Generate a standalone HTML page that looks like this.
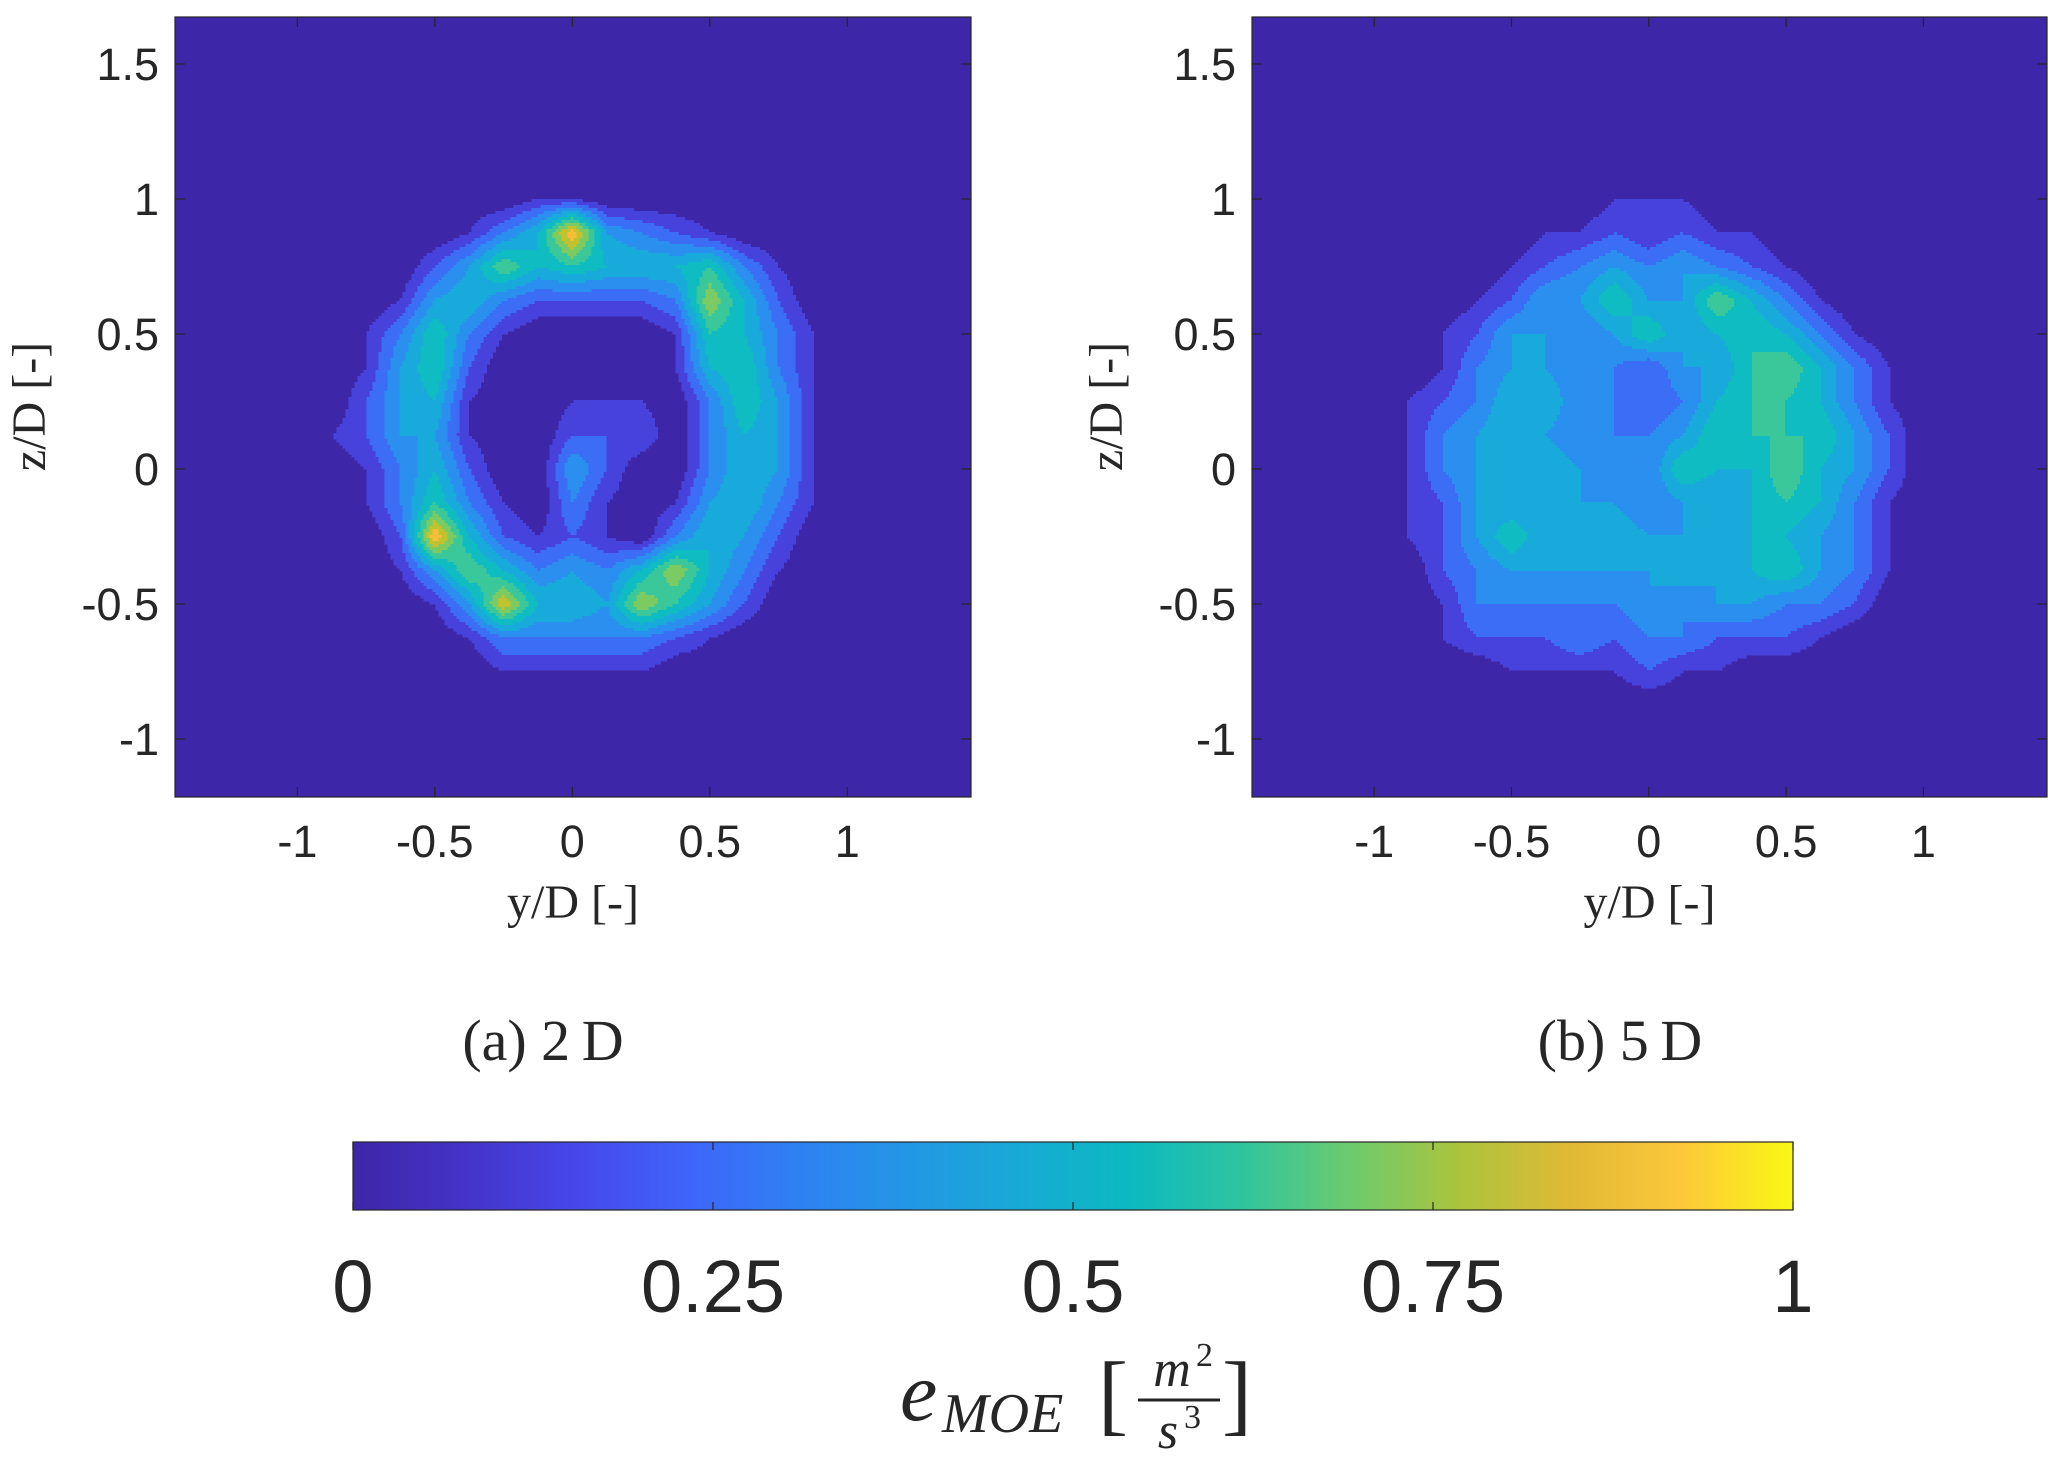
<!DOCTYPE html>
<html><head><meta charset="utf-8"><style>
html,body{margin:0;padding:0;background:#fff;}
body{width:2067px;height:1469px;position:relative;overflow:hidden;font-family:"Liberation Sans",sans-serif;}
svg{position:absolute;left:0;top:0;}
.t{font-family:"Liberation Sans",sans-serif;fill:#262626;}
.s{font-family:"Liberation Serif",serif;fill:#262626;}
</style></head><body>
<svg id="fig" width="2067" height="1469" viewBox="0 0 2067 1469"></svg>
<script>
// grid coordinates
const yCoords=[-1,-0.875,-0.75,-0.625,-0.5,-0.375,-0.25,-0.125,0,0.125,0.25,0.375,0.5,0.625,0.75,0.875,1];
const zCoords=[1,0.875,0.75,0.625,0.5,0.375,0.25,0.125,0,-0.125,-0.25,-0.375,-0.5,-0.625,-0.75,-0.875,-1];
// values in tenths, panel (a) 2D
const field2D=[
[0,0,0,0,0,0,0,1,1,0,0,0,0,0,0,0,0],
[0,0,0,0,0,1,3,5,10,4,3,2,1,0,0,0,0],
[0,0,0,0,2,4,7,5,6,5,5,5,6,3,1,0,0],
[0,0,0,1,4,5,3,2,2,2,2,3,8,5,2,0,0],
[0,0,1,3,6,3,1,0,0,0,0,1,6,5,3,1,0],
[0,0,1,4,6,2,0,0,0,0,0,1,5,6,3,1,0],
[0,0,2,4,5,1,0,0,1,1,1,0,3,6,4,1,0],
[0,1,2,4,4,1,0,0,2,2,2,0,3,5,4,1,0],
[0,0,1,3,5,2,0,0,4,2,0,0,3,5,4,1,0],
[0,0,1,3,6,3,1,0,3,1,0,1,4,5,3,1,0],
[0,0,0,2,10,5,2,1,2,1,0,3,5,4,2,0,0],
[0,0,0,1,4,7,5,3,4,3,5,8,5,3,1,0,0],
[0,0,0,0,1,4,9,5,5,4,8,6,4,2,0,0,0],
[0,0,0,0,0,1,3,3,3,3,3,2,1,0,0,0,0],
[0,0,0,0,0,0,1,1,1,1,1,0,0,0,0,0,0],
[0,0,0,0,0,0,0,0,0,0,0,0,0,0,0,0,0],
[0,0,0,0,0,0,0,0,0,0,0,0,0,0,0,0,0]];
// panel (b) 5D
const field5D=[
[0,0,0,0,0,0,0,1,1,1,0,0,0,0,0,0,0],
[0,0,0,0,0,1,1,2,1,2,1,1,0,0,0,0,0],
[0,0,0,0,1,2,3,4,3,4,3,2,1,0,0,0,0],
[0,0,0,1,2,4,4,6,4,4,7,5,3,1,0,0,0],
[0,0,1,2,4,4,3,4,6,4,5,6,5,3,1,0,0],
[0,0,1,3,4,4,3,3,2,4,4,6,7,5,3,1,0],
[0,1,2,3,5,5,3,3,2,3,5,6,6,5,3,1,0],
[0,1,3,4,5,4,3,3,3,4,6,6,6,6,4,2,0],
[0,1,3,4,4,5,4,3,3,6,5,5,7,5,4,2,0],
[0,1,2,4,4,4,4,4,3,4,4,5,6,5,3,1,0],
[0,1,2,4,6,4,4,5,4,4,4,5,5,4,3,1,0],
[0,0,2,3,4,4,4,4,4,5,4,5,6,4,3,1,0],
[0,0,1,3,3,3,3,3,4,3,4,4,3,3,2,0,0],
[0,0,1,2,2,2,3,2,3,3,2,2,2,1,0,0,0],
[0,0,0,0,1,1,1,1,2,1,1,0,0,0,0,0,0],
[0,0,0,0,0,0,0,0,0,0,0,0,0,0,0,0,0],
[0,0,0,0,0,0,0,0,0,0,0,0,0,0,0,0,0]];
const xTicks=[-1,-0.5,0,0.5,1];
const xTickLabels=["-1","-0.5","0","0.5","1"];
const yTicks=[-1,-0.5,0,0.5,1,1.5];
const yTickLabels=["-1","-0.5","0","0.5","1","1.5"];
const cbTicks=[0,0.25,0.5,0.75,1];
const cbTickLabels=["0","0.25","0.5","0.75","1"];
const palette=["#3e26a8","#4842dc","#3b6ef5","#2a8fee","#19aadc","#0fbcc2","#3ac79a","#7ccb62","#c2c22f","#f7bd3b","#f9f714"];

const NS="http://www.w3.org/2000/svg";
const svg=document.getElementById('fig');
function mk(tag,attrs,parent){const e=document.createElementNS(NS,tag);for(const k in attrs)e.setAttribute(k,attrs[k]);(parent||svg).appendChild(e);return e;}

const yMin=-1.445,yMax=1.45,zMin=-1.215,zMax=1.674;
function drawPanel(left,right,top,bottom,field,name){
  const g=mk('g',{});
  
  
  const sx=v=>left+(v-yMin)/(yMax-yMin)*(right-left);
  const sy=v=>top+(zMax-v)/(zMax-zMin)*(bottom-top);
  const bg=mk('rect',{x:left,y:top,width:right-left,height:bottom-top,fill:palette[0]},g);
  
  
  const cg=mk('g',{'shape-rendering':'crispEdges'},g);
  
  
  const x0=sx(yCoords[0]),x1=sx(yCoords[yCoords.length-1]);
  const y0=sy(zCoords[0]),y1=sy(zCoords[zCoords.length-1]);
  const step=3;
  const nr=zCoords.length,nc=yCoords.length;
  for(let py=y0;py<y1;py+=step){
    const fz=(py+step/2-y0)/(y1-y0)*(nr-1);
    const r=Math.min(nr-2,Math.floor(fz)),tz=fz-r;
    let runStart=x0,runLvl=-1;
    const flush=(endX)=>{
      if(runLvl>0){
        const c=mk('rect',{x:runStart.toFixed(1),y:py.toFixed(1),width:(endX-runStart+0.5).toFixed(1),height:step+0.5,fill:palette[runLvl]},cg);
        
        
      }
    };
    for(let px=x0;px<x1;px+=step){
      const fy=(px+step/2-x0)/(x1-x0)*(nc-1);
      const c=Math.min(nc-2,Math.floor(fy)),ty=fy-c;
      const v=(field[r][c]*(1-ty)*(1-tz)+field[r][c+1]*ty*(1-tz)+field[r+1][c]*(1-ty)*tz+field[r+1][c+1]*ty*tz)/10;
      const lvl=Math.max(0,Math.min(10,Math.floor(v*10+1e-6)));
      if(lvl!==runLvl){flush(px);runStart=px;runLvl=lvl;}
    }
    flush(x1);
  }
  const fr=mk('rect',{x:left,y:top,width:right-left,height:bottom-top,fill:'none',stroke:'#262626','stroke-width':1.2},g);
  
  
  xTicks.forEach((t,i)=>{
    const x=sx(t);
    mk('line',{x1:x,x2:x,y1:bottom,y2:bottom-10,stroke:'#262626','stroke-width':1.2},g);
    mk('line',{x1:x,x2:x,y1:top,y2:top+10,stroke:'#262626','stroke-width':1.2},g);
    const tx=mk('text',{x:x,y:bottom+60,'text-anchor':'middle',class:'t','font-size':45},g);
    tx.textContent=xTickLabels[i];
    
    
  });
  yTicks.forEach((t,i)=>{
    const y=sy(t);
    mk('line',{x1:left,x2:left+10,y1:y,y2:y,stroke:'#262626','stroke-width':1.2},g);
    mk('line',{x1:right,x2:right-10,y1:y,y2:y,stroke:'#262626','stroke-width':1.2},g);
    const tx=mk('text',{x:left-16,y:y+16,'text-anchor':'end',class:'t','font-size':45},g);
    tx.textContent=yTickLabels[i];
    
    
  });
  const xl=mk('text',{x:(left+right)/2,y:bottom+121,'text-anchor':'middle',class:'s','font-size':48},g);
  xl.textContent='y/D [-]';
  
  
  const yx=left-130,yy=sy(0.25)+5;
  const yl=mk('text',{x:yx,y:yy,'text-anchor':'middle',class:'s','font-size':48,transform:`rotate(-90 ${yx} ${yy})`},g);
  yl.textContent='z/D [-]';
  
  
}
drawPanel(175,971,17,797,field2D,'panel-2d');
drawPanel(1252,2047,17,797,field5D,'panel-5d');

// captions
const capA=mk('text',{x:543,y:1060,'text-anchor':'middle',class:'s','font-size':58,fill:'#000'});
capA.textContent='(a) 2\u2009D';


const capB=mk('text',{x:1620,y:1060,'text-anchor':'middle',class:'s','font-size':58,fill:'#000'});
capB.textContent='(b) 5\u2009D';



// colorbar
const cbL=353,cbR=1793,cbT=1142,cbB=1210;
const defs=mk('defs',{});
const lg=mk('linearGradient',{id:'parula',x1:0,x2:1,y1:0,y2:0},defs);
const grad=["#3e26a8","#4433c8","#4747ea","#3f64fa","#2f80f3","#2397e5","#18aad6","#0bb9c1","#2ec4a0","#6ccb6e","#acc43c","#e1b935","#fdc83a","#f9f714"];
grad.forEach((c,i)=>mk('stop',{offset:i/(grad.length-1),'stop-color':c},lg));
const cb=mk('rect',{x:cbL,y:cbT,width:cbR-cbL,height:cbB-cbT,fill:'url(#parula)',stroke:'#262626','stroke-width':1.2});


cbTicks.forEach((t,i)=>{
  const x=cbL+t*(cbR-cbL);
  mk('line',{x1:x,x2:x,y1:cbT,y2:cbT+8,stroke:'#262626','stroke-width':1.2});
  mk('line',{x1:x,x2:x,y1:cbB,y2:cbB-8,stroke:'#262626','stroke-width':1.2});
  const tx=mk('text',{x:x,y:1312,'text-anchor':'middle',class:'t','font-size':74});
  tx.textContent=cbTickLabels[i];
  
  
});
const lbl=mk('g',{});


const e1=mk('text',{x:900,y:1420,class:'s','font-size':84,'font-style':'italic'},lbl);e1.textContent='e';
const e2=mk('text',{x:942,y:1432,class:'s','font-size':56,'font-style':'italic'},lbl);e2.textContent='MOE';
const e3=mk('text',{x:1098,y:1424,class:'s','font-size':90},lbl);e3.textContent='[';
const e4=mk('text',{x:1172,y:1386,'text-anchor':'middle',class:'s','font-size':52,'font-style':'italic'},lbl);e4.textContent='m';
const e4b=mk('text',{x:1196,y:1366,class:'s','font-size':34},lbl);e4b.textContent='2';
mk('line',{x1:1138,x2:1220,y1:1400,y2:1400,stroke:'#262626','stroke-width':3},lbl);
const e5=mk('text',{x:1168,y:1448,'text-anchor':'middle',class:'s','font-size':52,'font-style':'italic'},lbl);e5.textContent='s';
const e5b=mk('text',{x:1184,y:1428,class:'s','font-size':34},lbl);e5b.textContent='3';
const e6=mk('text',{x:1222,y:1424,class:'s','font-size':90},lbl);e6.textContent=']';
</script>
</body></html>
